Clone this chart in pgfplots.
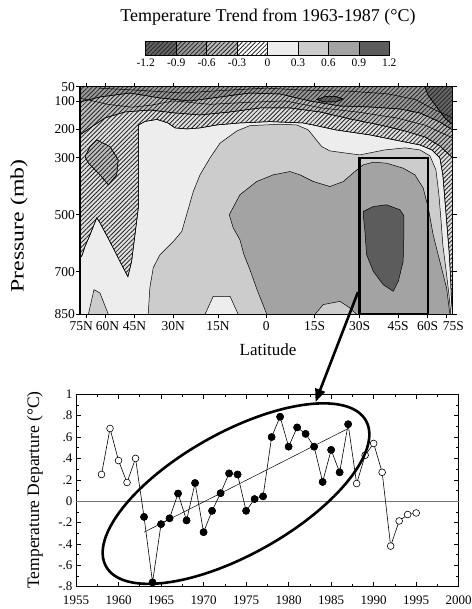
\documentclass[border=0pt]{standalone}
\usepackage{pgfplots}
\pgfplotsset{compat=1.18}
\usepackage{pgfplotstable}
\usepackage{fontspec}
\setmainfont{Liberation Serif}
\usetikzlibrary{patterns.meta,arrows.meta,shapes.geometric}

% shades of the contour bands
\definecolor{pos1}{gray}{0.93}
\definecolor{pos2}{gray}{0.80}
\definecolor{pos3}{gray}{0.64}
\definecolor{pos4}{gray}{0.36}
\definecolor{neg1}{gray}{0.88}
\definecolor{neg2}{gray}{0.74}
\definecolor{neg3}{gray}{0.60}
\definecolor{neg4}{gray}{0.40}

\tikzset{
  hatch/.style={postaction={pattern={Lines[angle=45,distance=3.1bp,line width=0.85bp]},pattern color=black!85}},
  cline/.style={draw=black,line width=0.5bp},
}

% yearly temperature departure, 30S-60S
\pgfplotstableread{
year dT
1958 0.25
1959 0.68
1960 0.38
1961 0.175
1962 0.40
1963 -0.147
1964 -0.76
1965 -0.215
1966 -0.16
1967 0.072
1968 -0.18
1969 0.17
1970 -0.29
1971 -0.09
1972 0.075
1973 0.26
1974 0.25
1975 -0.09
1976 0.02
1977 0.045
1978 0.60
1979 0.79
1980 0.51
1981 0.69
1982 0.63
1983 0.51
1984 0.18
1985 0.48
1986 0.27
1987 0.72
1988 0.165
1989 0.43
1990 0.54
1991 0.27
1992 -0.42
1993 -0.185
1994 -0.125
1995 -0.11
}\series

\begin{document}
\begin{tikzpicture}
\path[use as bounding box] (0,0) rectangle (472bp,609bp);

% ---------------- title and colour key
\node[font=\fontsize{18bp}{19bp}\selectfont] at (268bp,592bp) {Temperature Trend from 1963-1987 (°C)};
\begin{scope}[line width=0.6bp]
\fill[neg4] (145.7bp,554bp) rectangle (176.15bp,567.3bp);
\path[hatch] (145.7bp,554bp) rectangle (176.15bp,567.3bp);
\fill[neg3] (176.15bp,554bp) rectangle (206.6bp,567.3bp);
\path[hatch] (176.15bp,554bp) rectangle (206.6bp,567.3bp);
\fill[neg2] (206.6bp,554bp) rectangle (237.05bp,567.3bp);
\path[hatch] (206.6bp,554bp) rectangle (237.05bp,567.3bp);
\fill[white] (237.05bp,554bp) rectangle (267.5bp,567.3bp);
\path[hatch] (237.05bp,554bp) rectangle (267.5bp,567.3bp);
\fill[pos1] (267.5bp,554bp) rectangle (297.95bp,567.3bp);
\fill[pos2] (297.95bp,554bp) rectangle (328.4bp,567.3bp);
\fill[pos3] (328.4bp,554bp) rectangle (358.85bp,567.3bp);
\fill[pos4] (358.85bp,554bp) rectangle (389.3bp,567.3bp);
\foreach \xx in {145.7,176.15,206.6,237.05,267.5,297.95,328.4,358.85,389.3}
  \draw (\xx bp,554bp) -- (\xx bp,567.3bp);
\draw (145.7bp,554bp) rectangle (389.3bp,567.3bp);
\end{scope}
\foreach \xx/\t in {145.7/-1.2,176.15/-0.9,206.6/-0.6,237.05/-0.3,267.5/0,297.95/0.3,328.4/0.6,358.85/0.9,389.3/1.2}
  \node[font=\fontsize{11.5bp}{12bp}\selectfont] at (\xx bp,546.5bp) {\t};

% ---------------- latitude-pressure section
\begin{axis}[
  at={(80bp,294.7bp)}, anchor=south west,
  scale only axis, width=372.7bp, height=227.6bp,
  xmin=-1, xmax=1, ymin=50, ymax=850, y dir=reverse,
  axis on top,
  axis line style={line width=1.1bp},
  tick align=outside, major tick length=4bp,
  tick style={line width=0.8bp, black},
  xtick={-0.966,-0.866,-0.707,-0.5,-0.259,0,0.259,0.5,0.707,0.866,0.966},
  xticklabels={{\hspace*{-10bp}75N},{60N\hspace*{-5bp}},45N,30N,15N,0,15S,30S,45S,60S,{75S\hspace*{-14bp}}},
  ytick={50,100,200,300,500,700,850},
  tick label style={font=\fontsize{13.5bp}{14bp}\selectfont},
  yticklabel style={inner xsep=1bp},
  /pgf/number format/assume math mode=true,
]
% 0 to 0.3 everywhere else
\addplot[fill=pos1, draw=none] coordinates {(-1,50) (1,50) (1,850) (-1,850)} -- cycle;
% -0.3 to 0
\addplot[fill=neg1, cline, hatch] coordinates {
 (-1,50) (1,50) (1,850) (0.993,798) (0.988,711) (0.980,623) (0.969,535)
 (0.958,447.6) (0.947,359.8) (0.931,300.2) (0.888,272.1) (0.824,254.6)
 (0.733,243) (0.556,219.5) (0.373,201.9) (0.250,184.4) (0.196,177.4)
 (0.019,172.8) (-0.142,177.4) (-0.265,184.4) (-0.356,194.9) (-0.426,198.4)
 (-0.490,194.9) (-0.528,177.4) (-0.587,165) (-0.651,172) (-0.687,185)
 (-0.687,377.4) (-0.687,476.7) (-0.705,570.4) (-0.723,664) (-0.743,717.7)
 (-0.785,665.1) (-0.839,594.9) (-0.893,528.3) (-0.910,510.7) (-0.946,570.4)
 (-0.973,611.4) (-0.991,646.5) (-1,646.5)} -- cycle;
% -0.6 to -0.3
\addplot[fill=neg2, cline, hatch] coordinates {
 (-0.910,237) (-0.839,260.5) (-0.795,307.2) (-0.803,359.8) (-0.848,394.9)
 (-0.893,359.8) (-0.955,318.8) (-0.973,295.6) (-0.946,260.5)} -- cycle;
\addplot[fill=neg2, cline, hatch] coordinates {
 (-1,50) (1,50) (1,300.2) (0.931,258.1) (0.851,226.5) (0.743,205.4)
 (0.609,184.4) (0.449,163.3) (0.288,138.8) (0.127,124.7) (-0.034,124.7)
 (-0.195,138.8) (-0.356,149.3) (-0.490,142.3) (-0.624,131.8) (-0.759,138.8)
 (-0.866,159.8) (-0.946,194.9) (-1,219.5)} -- cycle;
% -0.9 to -0.6
\addplot[fill=neg3, cline, hatch] coordinates {
 (-1,50) (1,50) (1,201.9) (0.931,173.9) (0.824,142.3) (0.717,128.2)
 (0.556,121.2) (0.395,117.7) (0.234,100.2) (0.073,75.6) (-0.088,72.1)
 (-0.249,86.1) (-0.410,100.2) (-0.571,89.6) (-0.732,72.1) (-0.893,86.1)
 (-1,103.7)} -- cycle;
% -1.2 to -0.9
\addplot[fill=neg4, cline, hatch] coordinates {
 (0.271,94.9) (0.314,85.1) (0.373,84.4) (0.411,93.2) (0.373,103.7) (0.309,103.7)} -- cycle;
\addplot[fill=neg4, cline, hatch] coordinates {
 (0.851,50) (1,50) (1,184.4) (0.958,159.8) (0.910,117.7) (0.867,79.1)} -- cycle;
% 0.3 to 0.6
\addplot[fill=pos2, cline] coordinates {
 (-0.634,850) (-0.625,756.3) (-0.607,686.2) (-0.571,640.5) (-0.499,593.9)
 (-0.454,558.8) (-0.428,500.2) (-0.392,418.4) (-0.356,359.8) (-0.303,301.2)
 (-0.249,248.6) (-0.158,205.4) (-0.088,186.8) (0.073,181.9) (0.163,184.4)
 (0.225,201.9) (0.261,231.1) (0.297,260.5) (0.341,275.6) (0.431,283.7)
 (0.502,289.7) (0.636,272.1) (0.744,265.1) (0.824,272.1) (0.878,293.2)
 (0.910,342.3) (0.926,430) (0.937,517.7) (0.947,605.4) (0.964,693.2)
 (0.980,780.9) (0.990,850)} -- cycle;
\addplot[fill=pos2, cline] coordinates {
 (-0.955,850) (-0.925,763.3) (-0.893,774.9) (-0.848,850)} -- cycle;
\addplot[fill=pos1, cline] coordinates {
 (-0.329,850) (-0.285,786.8) (-0.195,786.8) (-0.151,850)} -- cycle;
% 0.6 to 0.9
\addplot[fill=pos3, cline] coordinates {
 (-0.142,430) (-0.199,500.2) (-0.178,545.8) (-0.142,587.9) (-0.120,640.5)
 (-0.088,693.2) (-0.050,763.3) (-0.018,816) (0.002,850) (0.985,850)
 (0.967,757.4) (0.931,664) (0.895,570.4) (0.869,476.7) (0.842,406.5)
 (0.797,359.8) (0.734,336.3) (0.645,318.8) (0.574,315.3) (0.520,324.7)
 (0.475,348.2) (0.413,383.3) (0.341,400.9) (0.252,383.3) (0.180,359.8)
 (0.127,348.2) (0.037,359.8) (-0.052,383.3)} -- cycle;
\addplot[fill=pos2, cline] coordinates {
 (0.261,850) (0.305,816) (0.395,804.4) (0.448,827.6) (0.484,850)} -- cycle;
% 0.9 to 1.2
\addplot[fill=pos4, cline] coordinates {
 (0.520,488.6) (0.574,471.1) (0.645,465.1) (0.717,482.6) (0.738,503.7)
 (0.738,570.4) (0.734,664) (0.708,734.2) (0.681,769.3) (0.627,745.8)
 (0.574,699.1) (0.538,640.5) (0.529,558.8) (0.520,500.2)} -- cycle;
% further contour lines inside the cooling band
\addplot[cline] coordinates {(-1,90) (-0.85,112) (-0.72,122) (-0.62,115) (-0.5,100) (-0.3,112) (-0.1,105) (0.1,100) (0.3,125) (0.5,140) (0.7,160) (0.85,185) (1,230)};
\addplot[cline] coordinates {(-0.9,55) (-0.7,62) (-0.45,72) (-0.2,62) (0,55) (0.2,62) (0.45,66) (0.65,75) (0.8,95) (0.9,130) (1,160)};
% box round 30S-60S
\draw[line width=2.3bp] (axis cs:0.5,300) rectangle (axis cs:0.866,850);
\end{axis}
\node[rotate=90, font=\fontsize{19bp}{20bp}\selectfont] at (19bp,383bp) {\scalebox{1.25}[1]{Pressure (mb)}};
\node[font=\fontsize{17bp}{18bp}\selectfont] at (268bp,259bp) {Latitude};

% ---------------- time series
\begin{axis}[
  at={(76bp,22.3bp)}, anchor=south west,
  scale only axis, width=382.7bp, height=192.4bp,
  xmin=1955, xmax=2000, ymin=-0.8, ymax=1,
  xtick={1955,1960,1965,1970,1975,1980,1985,1990,1995,2000},
  minor x tick num=1,
  ytick={-0.8,-0.6,-0.4,-0.2,0,0.2,0.4,0.6,0.8,1},
  yticklabels={-.8,-.6,-.4,-.2,0,.2,.4,.6,.8,1},
  minor y tick num=1,
  tick align=inside,
  major tick length=5bp, minor tick length=3bp,
  tick style={black, line width=0.6bp},
  axis line style={line width=0.8bp},
  tick label style={font=\fontsize{13bp}{13bp}\selectfont},
  xticklabel style={/pgf/number format/1000 sep=, yshift=-6bp},
  /pgf/number format/assume math mode=true,
  clip=false,
]
\addplot[black!55, line width=0.5bp] coordinates {(1955,0) (2000,0)};
\addplot[black, line width=0.5bp] coordinates {(1963,-0.29) (1987,0.68)};
\addplot[black, line width=0.6bp] table[x=year, y=dT] {\series};
\addplot[only marks, mark=*, mark size=3.4bp, mark options={fill=white, draw=black, line width=0.6bp}] table[x=year, y=dT] {\series};
\addplot[only marks, mark=*, mark size=3.6bp, mark options={fill=black, draw=black}, restrict x to domain=1963:1987] table[x=year, y=dT] {\series};
\end{axis}
\node[rotate=90, font=\fontsize{17.5bp}{18bp}\selectfont] at (35bp,119bp) {Temperature Departure (°C)};

% ---------------- ellipse and arrow
\node[draw, ellipse, line width=2.6bp, minimum width=298bp, minimum height=122bp, inner sep=0pt, rotate=29.3] at (236bp,115.4bp) {};
\draw[line width=2.6bp, -{Triangle[length=13bp,width=10bp]}] (358bp,317bp) -- (315.5bp,207bp);
\end{tikzpicture}
\end{document}
